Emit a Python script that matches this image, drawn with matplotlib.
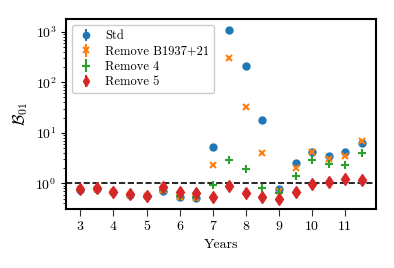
import matplotlib
matplotlib.use("Agg")
import matplotlib.pyplot as plt
import numpy as np

years = [3, 3.5, 4, 4.5, 5, 5.5, 6, 6.5, 7, 7.5, 8, 8.5, 9, 9.5, 10, 10.5, 11, 11.5]

std = [0.74, 0.76, 0.67, 0.60, 0.56, 0.72, 0.54, 0.52, 5.3, 1085, 213, 17.7, 0.76, 2.49, 4.2, 3.4, 4.1, 6.4]
rm_b1937 = [0.78, 0.78, 0.67, 0.60, 0.56, 0.74, 0.54, 0.52, 2.3, 307, 32.9, 3.9, 0.71, 1.98, 4.1, 3.0, 3.4, 7.0]
rm_4 = [0.74, 0.76, 0.67, 0.60, 0.56, 0.74, 0.55, 0.53, 0.92, 2.9, 1.89, 0.80, 0.65, 1.41, 2.9, 2.4, 2.3, 3.9]
rm_5 = [0.76, 0.80, 0.67, 0.61, 0.57, 0.86, 0.68, 0.65, 0.54, 0.90, 0.65, 0.54, 0.48, 0.68, 0.95, 1.06, 1.23, 1.16]
zero_err = [0.0] * len(years)

labels = ["Std", "Remove B1937+21", "Remove 4", "Remove 5"]
xticks = [3, 4, 5, 6, 7, 8, 9, 10, 11]

plt.rcParams["font.family"] = "cmr10"
plt.rcParams["mathtext.fontset"] = "cm"
plt.rcParams["axes.formatter.use_mathtext"] = True
plt.rcParams["font.size"] = 10

fig = plt.figure(figsize=(3.94, 2.68), dpi=100)
ax = fig.add_axes([0.168, 0.22, 0.786, 0.709])

ax.errorbar(years, std, yerr=zero_err, fmt="o", color="#1f77b4", ms=5, label=labels[0])
ax.errorbar(years, rm_b1937, yerr=zero_err, fmt="x", color="#ff7f0e", ms=5, mew=1.5, label=labels[1])
ax.errorbar(years, rm_4, yerr=zero_err, fmt="+", color="#2ca02c", ms=6, mew=1.5, label=labels[2])
ax.errorbar(years, rm_5, yerr=zero_err, fmt="d", color="#d62728", ms=6, label=labels[3])

ax.axhline(1.0, color="black", ls="--", lw=1.2)
ax.set_yscale("log")
ax.set_ylim(0.31, 1780)
ax.set_xticks(xticks)
ax.set_xticklabels([str(t) for t in xticks])
ax.set_xlabel("Years")
ax.set_ylabel(r"$\mathcal{B}_{01}$", fontsize=12)

for s in ax.spines.values():
    s.set_linewidth(1.5)
ax.tick_params(axis="x", colors="#333333", labelcolor="black", length=5)

leg = ax.legend(loc="upper left", fontsize=9, framealpha=1, edgecolor="#cccccc",
                borderpad=0.4, handlelength=1.3, handletextpad=0.9, labelspacing=0.25,
                borderaxespad=0.5, markerscale=0.9)

fig.savefig("out.png", dpi=100)
